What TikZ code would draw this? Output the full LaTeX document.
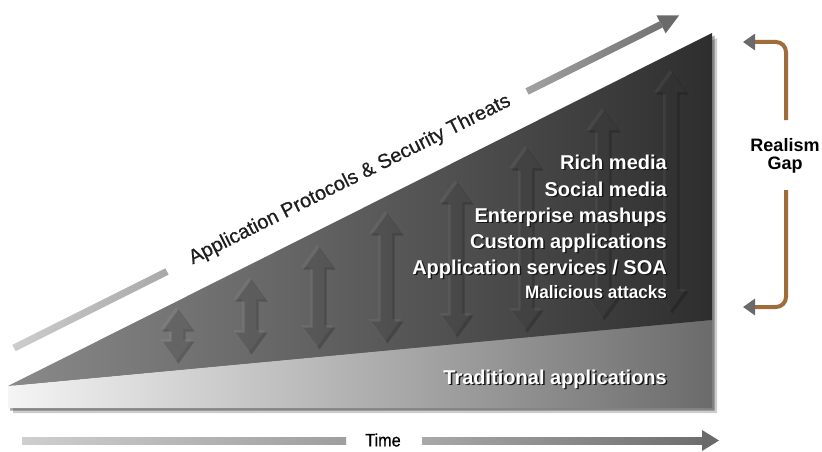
\documentclass[tikz,border=0pt]{standalone}
\usepackage{fontspec}
\setmainfont{Liberation Sans}
\newfontfamily\medfont[FakeBold=0.6]{Liberation Sans}
\usetikzlibrary{arrows.meta}
\definecolor{brownline}{HTML}{A06D3A}
\definecolor{headgray}{HTML}{6A6A6A}
\definecolor{txtdark}{HTML}{1E1E1E}
\definecolor{shadowtxt}{HTML}{151515}
\newcommand\shtext[1]{\makebox[0pt][l]{\hspace{1.5pt}\raisebox{-1.5pt}{\textcolor{shadowtxt}{#1}}}#1}
\newcommand\udarr[3]{%
  \begin{scope}[shift={(#1,#2)}]
    \fill[black,opacity=0.2,shift={(2.5,2.5)}] (0,0) -- (16,22) -- (7,22) -- (7,{#3-22}) -- (16,{#3-22}) -- (0,#3) -- (-16,{#3-22}) -- (-7,{#3-22}) -- (-7,22) -- (-16,22) -- cycle;
    \fill[white,opacity=0.05] (0,0) -- (16,22) -- (7,22) -- (7,{#3-22}) -- (16,{#3-22}) -- (0,#3) -- (-16,{#3-22}) -- (-7,{#3-22}) -- (-7,22) -- (-16,22) -- cycle;
  \end{scope}}
\begin{document}
\begin{tikzpicture}[x=1pt,y=-1pt,
  item/.style={font=\fontsize{20}{22}\selectfont\bfseries, text=white, inner sep=0pt, anchor=base east},
  small/.style={font=\fontsize{18}{20}\selectfont\bfseries, xscale=0.95},
  gapline/.style={draw=brownline, line width=4pt, rounded corners=10pt, -{Triangle[length=12pt,width=16pt,color=headgray]}}
  ]
\useasboundingbox (0,0) rectangle (822,452);
\fill[white] (0,0) rectangle (822,452);

% drop shadow of the main shape
\fill[black,opacity=0.2] (13,391) -- (717,38) -- (717,413) -- (13,413) -- cycle;
\fill[black,opacity=0.35] (10,388) -- (714.5,35.5) -- (714.5,410.5) -- (10,410.5) -- cycle;

% light bottom band
\shade[left color=white!96!black, right color=black!58] (8,386) -- (712,320) -- (712,408) -- (8,408) -- cycle;
% dark wedge
\shade[left color=black!46, right color=black!82] (8,386) -- (712,33) -- (712,320) -- cycle;

% embossed double arrows
\udarr{176}{307}{54}
\udarr{249}{277}{75}
\udarr{317}{245}{102}
\udarr{385}{211}{130}
\udarr{455}{180}{155}
\udarr{525}{146}{184}
\udarr{602}{108}{210}
\udarr{670}{70}{241}

% rising arrow with label
\shade[left color=black!20, right color=black!34] (15.57,351.13) -- (168.57,274.63) -- (165.43,268.37) -- (12.43,344.87) -- cycle;
\shade[left color=black!37, right color=black!55] (528.57,94.63) -- (662.67,27.53) -- (659.53,21.27) -- (525.43,88.37) -- cycle;
\fill[headgray] (679,15.5) -- (665.6,33.4) -- (656.6,15.5) -- cycle;
\node[rotate=26.565, text=txtdark, font=\medfont\fontsize{20}{22}\selectfont, inner sep=0pt] (proto) at (350,180) {Application Protocols \& Security Threats};

% item list
\node[item] (t1) at (667,169) {\shtext{Rich media}};
\node[item] (t2) at (667,196) {\shtext{Social media}};
\node[item] (t3) at (667,222) {\shtext{Enterprise mashups}};
\node[item] (t4) at (667,248) {\shtext{Custom applications}};
\node[item] (t5) at (667,274) {\shtext{Application services / SOA}};
\node[item,small] (t6) at (667,298) {\shtext{Malicious attacks}};
\node[item] (t7) at (667,384) {\shtext{Traditional applications}};

% realism gap bracket
\node[font=\fontsize{18}{18}\selectfont\bfseries, align=center, inner sep=0pt] (gap) at (785,156) {Realism\\Gap};
\coordinate (gt) at (786,120);
\coordinate (gb) at (786,190);
\coordinate (ct) at (786,42);
\coordinate (cb) at (786,307);
\coordinate (tl) at (743,42);
\coordinate (bl) at (743,307);
\draw[gapline] (gt) -- (ct) -- (tl);
\draw[gapline] (gb) -- (cb) -- (bl);

% time axis
\shade[left color=black!19, right color=black!38] (22,437) rectangle (346,444);
\node[font=\medfont\fontsize{18}{20}\selectfont, xscale=0.9, inner sep=0pt] (time) at (383,440) {Time};
\shade[left color=black!34, right color=black!57] (422,437) rectangle (704,444);
\fill[headgray] (702,430) -- (719,440.5) -- (702,451) -- cycle;
\end{tikzpicture}
\end{document}
